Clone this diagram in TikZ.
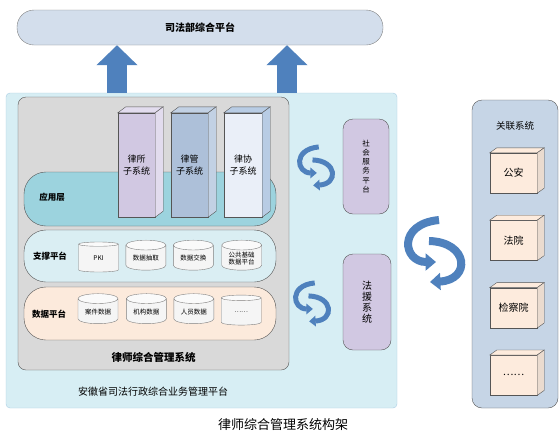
\documentclass[tikz,border=0pt]{standalone}
\usepackage{fontspec}
\setmainfont{Noto Sans CJK SC}
\usepackage{xcolor}
\usetikzlibrary{positioning, shapes.geometric, arrows.meta}

\definecolor{barblue}{HTML}{D3DEEC}
\definecolor{arrowblue}{HTML}{4F81BD}
\definecolor{outerfill}{HTML}{D7EEF4}
\definecolor{outeredge}{HTML}{A9CCE3}
\definecolor{grayfill}{HTML}{D9D9D9}
\definecolor{appfill}{HTML}{9CD3DE}
\definecolor{supfill}{HTML}{DAEEF3}
\definecolor{datafill}{HTML}{FCEADC}
\definecolor{lilac}{HTML}{D1C8E2}
\definecolor{lilacside}{HTML}{E2DCEE}
\definecolor{steel}{HTML}{ADC0D9}
\definecolor{steelside}{HTML}{C2D1E4}
\definecolor{pale}{HTML}{EAEFF8}
\definecolor{paleside}{HTML}{B8CCE4}
\definecolor{relfill}{HTML}{C6D5E6}
\definecolor{peach}{HTML}{FDEBDD}
\definecolor{edge}{HTML}{555555}

\begin{document}
\begin{tikzpicture}[x=1pt, y=-1pt,
  bar/.style={draw=gray, fill=barblue, rounded corners=17pt, minimum width=366pt, minimum height=35pt, font=\bfseries\fontsize{10}{12}\selectfont},
  panel/.style={draw=edge, rounded corners=8pt},
  tier/.style={draw=edge, rounded corners=22pt, minimum width=252pt},
  tierlabel/.style={font=\bfseries\fontsize{8.5}{10}\selectfont},
  prism/.style={draw=edge, minimum width=37pt, minimum height=104pt, align=center, inner sep=1pt, font=\fontsize{9}{11.5}\selectfont},
  drum/.style={cylinder, shape border rotate=90, aspect=0.35, draw=gray, cylinder uses custom fill, cylinder body fill=white!92!gray, cylinder end fill=white!96!gray, minimum width=40pt, minimum height=30pt, inner sep=1pt, align=center, font=\fontsize{6.5}{7.5}\selectfont},
  sidebox/.style={draw=edge, fill=lilac, rounded corners=10pt, align=center, inner sep=1pt},
  cube/.style={draw=edge, fill=peach, minimum width=47pt, minimum height=40pt, font=\fontsize{10}{12}\selectfont},
  liftarrow/.style={arrowblue, line width=20pt, -{Triangle[length=20pt, width=40pt]}},
  swirl/.style={arrowblue, -{Triangle[length=0pt 1.3, width=0pt 2.1]}}
]

% top platform and the outer platform
\node[bar] (ministry) at (200,27.5) {司法部综合平台};
\node[draw=outeredge, fill=outerfill, rounded corners=4pt, minimum width=391pt, minimum height=315pt] (outer) at (201.5,250.5) {};
\node[panel, fill=grayfill, minimum width=271pt, minimum height=273pt] (lawyersys) at (153.5,233.5) {};
\node[font=\bfseries\fontsize{10.5}{12}\selectfont, above=4pt of lawyersys.south] (lawyerlabel) {律师综合管理系统};
\node[font=\fontsize{10}{12}\selectfont] (outerlabel) at (153,392) {安徽省司法行政综合业务管理平台};

% lift arrows
\draw[liftarrow] (outer.north -| 117,0) -- (ministry.south -| 117,0);
\draw[liftarrow] (outer.north -| 287,0) -- (ministry.south -| 287,0);

% three tiers
\node[tier, fill=appfill, minimum height=54pt] (applayer) at (150,199) {};
\node[tierlabel] at (52,197) {应用层};
\node[tier, fill=supfill, minimum height=52pt] (support) at (150,256) {};
\node[tierlabel] at (50,256) {支撑平台};
\node[tier, fill=datafill, minimum height=53pt] (dataplat) at (150,313.5) {};
\node[tierlabel] at (49,314) {数据平台};

% subsystems
\node[prism, fill=lilac] (lawfirm) at (136.5,165) {律所\\子系统};
\node[prism, fill=steel] (lawmgmt) at (189.5,165) {律管\\子系统};
\node[prism, fill=pale, minimum width=38pt] (lawassoc) at (243,165) {律协\\子系统};
\foreach \n/\sidecol in {lawfirm/lilacside, lawmgmt/steelside, lawassoc/paleside} {
  \filldraw[draw=edge, fill=\sidecol] (\n.north west) -- ++(8,-6) -- ([shift={(8,-6)}]\n.north east) -- (\n.north east) -- cycle;
  \filldraw[draw=edge, fill=\sidecol] (\n.north east) -- ++(8,-6) -- ([shift={(8,-6)}]\n.south east) -- (\n.south east) -- cycle;
}

% support platform
\node[drum] (pki) at (98.5,258.5) {PKI};
\node[drum, right=7pt of pki] (extract) {数据抽取};
\node[drum, right=7pt of extract] (exchange) {数据交换};
\node[drum, right=8pt of exchange] (basedata) {公共基础\\数据平台};

% data platform
\node[drum] (casedata) at (98,312) {案件数据};
\node[drum, right=8pt of casedata] (orgdata) {机构数据};
\node[drum, right=7pt of orgdata] (staffdata) {人员数据};
\node[drum, right=7pt of staffdata] (moredata) {……};

% side systems
\node[sidebox, minimum width=46pt, minimum height=95pt, font=\fontsize{7.5}{9.2}\selectfont] (social) at (366,166.5) {社\\会\\服\\务\\平\\台};
\node[sidebox, minimum width=48pt, minimum height=96pt, font=\fontsize{10}{11}\selectfont] (legalaid) at (367,302) {法\\援\\系\\统};

% related systems
\node[panel, fill=relfill, rounded corners=10pt, minimum width=86pt, minimum height=308pt] (related) at (515,254) {};
\node[font=\fontsize{9.5}{11}\selectfont, below=18pt of related.north] (relatedlabel) {关联系统};
\node[cube] (police) at (513.5,173) {公安};
\node[cube, below=27pt of police] (court) {法院};
\node[cube, below=27pt of court] (procur) {检察院};
\node[cube, below=27pt of procur] (others) {……};
\foreach \n in {police, court, procur, others} {
  \filldraw[draw=edge, fill=peach] (\n.north west) -- ++(7,-5) -- ([shift={(7,-5)}]\n.north east) -- (\n.north east) -- cycle;
  \filldraw[draw=edge, fill=peach!85!gray] (\n.north east) -- ++(7,-5) -- ([shift={(7,-5)}]\n.south east) -- (\n.south east) -- cycle;
}

% exchange arrows
\foreach \cx/\cy/\s/\w in {315/168/0.62/5, 311/304/0.62/5, 433/254/1/8} {
  \begin{scope}[shift={(\cx,\cy)}, scale=\s]
    \draw[swirl, line width=\w pt] (6,-34) .. controls (-36,-30) and (-30,8) .. (3,8);
    \draw[swirl, line width=\w pt] (-4,-13) .. controls (36,-12) and (38,26) .. (-3,28);
  \end{scope}
}

% caption
\node[font=\fontsize{13}{15}\selectfont] (caption) at (283,425) {律师综合管理系统构架};

\useasboundingbox (0,0) rectangle (560,440);
\end{tikzpicture}
\end{document}
